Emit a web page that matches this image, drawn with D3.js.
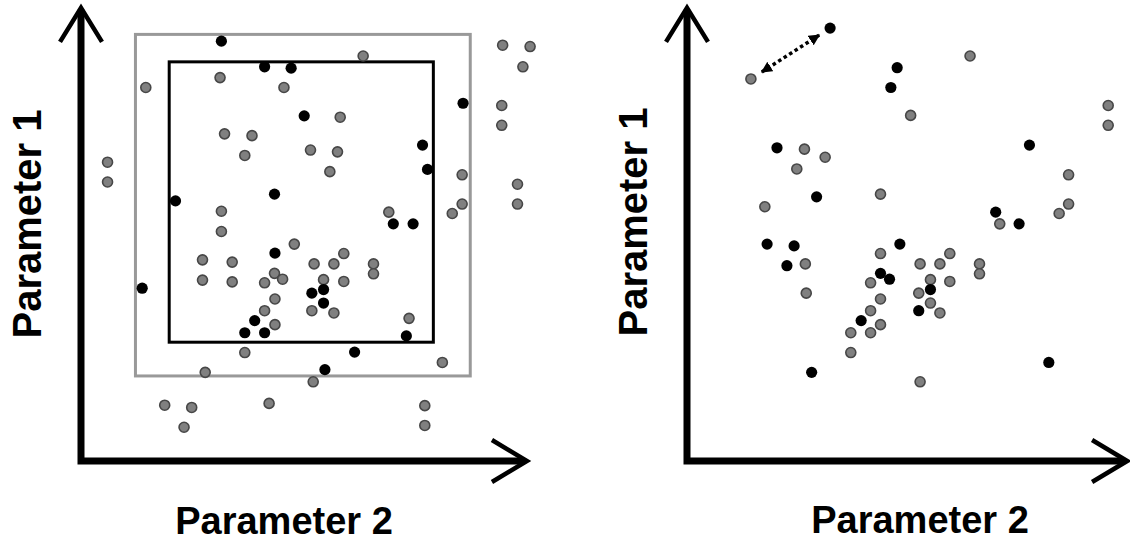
<!DOCTYPE html>
<html>
<head>
<meta charset="utf-8">
<script src="https://cdn.jsdelivr.net/npm/d3@7"></script>
<style>
  html, body { margin: 0; padding: 0; background: #fff; }
  svg { display: block; }
  .label { font-family: "Liberation Sans", Arial, sans-serif; font-weight: bold; fill: #000; }
</style>
</head>
<body>
<svg id="chart" width="1130" height="542"></svg>
<script>
// Points are [Parameter 2, Parameter 1] on a 0–100 scale.

// Panel A: sample space with an outer (gray) and inner (black) bounding box
const leftGray = [
  [30.9, 85.2], [14.4, 83.0], [45.1, 83.0], [31.9, 72.7], [38.0, 72.3], [36.4, 67.9],
  [5.9, 66.4], [5.9, 62.0], [31.2, 55.5], [62.7, 90.0], [93.7, 92.4], [99.8, 92.1],
  [98.2, 87.6], [93.5, 79.0], [93.5, 74.6], [57.6, 76.4], [51.0, 69.1], [57.0, 68.7],
  [55.3, 64.3], [84.7, 63.6], [97.0, 61.5], [97.0, 57.1], [84.7, 57.1], [82.5, 55.0],
  [68.4, 55.3], [31.2, 51.0], [47.4, 48.2], [27.0, 44.7], [33.6, 44.2], [27.0, 40.2],
  [33.6, 39.8], [43.0, 41.7], [44.8, 40.4], [40.8, 39.6], [43.1, 36.0], [40.8, 33.4],
  [43.1, 30.3], [36.4, 24.1], [27.6, 19.7], [18.6, 12.4], [24.6, 11.9], [22.9, 7.5],
  [41.8, 12.8], [58.4, 46.1], [51.8, 43.8], [56.2, 43.8], [65.0, 43.8], [65.0, 41.6],
  [53.9, 40.3], [58.4, 39.9], [51.3, 33.4], [56.2, 32.9], [72.9, 31.7], [80.3, 21.9],
  [51.6, 17.6], [76.4, 12.3], [76.4, 7.9]
];
const leftBlack = [
  [31.2, 93.3], [40.8, 87.6], [46.7, 87.3], [43.0, 59.3], [21.0, 57.8], [84.9, 79.5],
  [49.6, 76.7], [75.9, 70.2], [77.0, 64.8], [69.4, 52.7], [73.8, 52.7], [43.1, 46.2],
  [38.6, 31.2], [36.4, 28.5], [40.8, 28.5], [13.6, 38.4], [53.9, 38.1], [51.3, 37.3],
  [53.9, 35.1], [72.3, 27.8], [60.8, 24.2], [54.2, 20.3]
];
// Boxes: [x0, x1, yBottom, yTop]
const outerBox = [12.1, 86.5, 18.9, 94.8];
const innerBox = [19.6, 78.3, 26.4, 88.7];

// Panel B: rearranged sample with one highlighted pair
const rightGray = [
  [14.2, 84.9], [26.1, 69.3], [30.7, 67.5], [24.4, 64.9], [43.0, 59.3], [17.3, 56.5],
  [62.9, 90.0], [49.7, 76.8], [93.6, 79.0], [93.6, 74.6], [84.8, 63.6], [84.8, 57.1],
  [82.7, 55.0], [69.5, 52.7], [26.3, 43.8], [26.5, 37.3], [43.0, 46.1], [40.8, 39.6],
  [43.0, 36.0], [40.8, 33.4], [43.0, 30.3], [36.4, 28.5], [40.8, 28.5], [36.4, 24.1],
  [51.8, 43.8], [56.2, 43.8], [58.4, 46.1], [65.0, 43.8], [65.0, 41.6], [54.1, 40.3],
  [58.4, 39.9], [51.5, 37.3], [54.1, 35.1], [56.2, 32.9], [51.8, 17.6]
];
const rightBlack = [
  [31.8, 96.2], [46.7, 87.4], [45.3, 83.0], [20.0, 69.6], [28.8, 58.7], [76.1, 70.2],
  [68.6, 55.3], [73.8, 52.7], [17.8, 48.2], [23.8, 47.8], [22.2, 43.4], [47.3, 48.2],
  [43.0, 41.7], [45.0, 40.4], [38.7, 31.2], [27.7, 19.7], [54.1, 38.1], [51.5, 33.4],
  [80.4, 21.9]
];
// Double-headed distance marker between two points of panel B
const pairLink = [rightGray[0], rightBlack[0]];

const xLabel = "Parameter 2";
const yLabel = "Parameter 1";

const svg = d3.select("#chart");

const defs = svg.append("defs");
defs.append("marker")
  .attr("id", "tri")
  .attr("viewBox", "0 0 10 10")
  .attr("refX", 9).attr("refY", 5)
  .attr("markerWidth", 3.2).attr("markerHeight", 3.2)
  .attr("markerUnits", "strokeWidth")
  .attr("orient", "auto-start-reverse")
  .append("path")
  .attr("d", "M0,0 L10,5 L0,10 Z")
  .attr("fill", "#000");

const y = d3.scaleLinear().domain([0, 100]).range([461, 11]);

function drawPanel(cfg) {
  const x = d3.scaleLinear().domain([0, 100]).range(cfg.xRange);
  const g = svg.append("g");

  // bounding boxes
  (cfg.boxes || []).forEach(b => {
    g.append("rect")
      .attr("x", x(b.box[0]))
      .attr("y", y(b.box[3]))
      .attr("width", x(b.box[1]) - x(b.box[0]))
      .attr("height", y(b.box[2]) - y(b.box[3]))
      .attr("fill", "none")
      .attr("stroke", b.color)
      .attr("stroke-width", 3);
  });

  // axes with open arrowheads
  const x0 = x(0), y0 = y(0);
  const xTip = x(cfg.xEnd), yTip = y(cfg.yEnd);
  g.append("path")
    .attr("d", `M${x0},${yTip + 2} L${x0},${y0} L${xTip - 2},${y0}`)
    .attr("fill", "none")
    .attr("stroke", "#000")
    .attr("stroke-width", 7)
    .attr("stroke-linejoin", "miter")
    .attr("stroke-linecap", "butt");
  g.append("path")
    .attr("d", `M${x0 - 21},${yTip + 34} L${x0},${yTip} L${x0 + 21},${yTip + 34}`)
    .attr("fill", "none").attr("stroke", "#000").attr("stroke-width", 4.5)
    .attr("stroke-linejoin", "miter");
  g.append("path")
    .attr("d", `M${xTip - 35},${y0 - 21} L${xTip},${y0} L${xTip - 35},${y0 + 21}`)
    .attr("fill", "none").attr("stroke", "#000").attr("stroke-width", 4.5)
    .attr("stroke-linejoin", "miter");

  // distance marker
  if (cfg.link) {
    const [a, b] = cfg.link;
    const ax = x(a[0]), ay = y(a[1]), bx = x(b[0]), by = y(b[1]);
    const len = Math.hypot(bx - ax, by - ay);
    const ux = (bx - ax) / len, uy = (by - ay) / len;
    const gap = 13;
    g.append("line")
      .attr("x1", ax + ux * gap).attr("y1", ay + uy * gap)
      .attr("x2", bx - ux * gap).attr("y2", by - uy * gap)
      .attr("stroke", "#000")
      .attr("stroke-width", 3.5)
      .attr("stroke-dasharray", "3.5,3")
      .attr("marker-start", "url(#tri)")
      .attr("marker-end", "url(#tri)");
  }

  // sample points
  g.selectAll("circle.gray").data(cfg.gray).join("circle")
    .attr("class", "gray")
    .attr("cx", d => x(d[0])).attr("cy", d => y(d[1]))
    .attr("r", 5)
    .attr("fill", "#808080")
    .attr("stroke", "#474747")
    .attr("stroke-width", 1.6);
  g.selectAll("circle.black").data(cfg.black).join("circle")
    .attr("class", "black")
    .attr("cx", d => x(d[0])).attr("cy", d => y(d[1]))
    .attr("r", 5.6)
    .attr("fill", "#000");

  // axis titles
  g.append("text")
    .attr("class", "label")
    .attr("x", cfg.xLabelPos[0]).attr("y", cfg.xLabelPos[1])
    .attr("text-anchor", "middle")
    .attr("font-size", 38)
    .text(xLabel);
  g.append("text")
    .attr("class", "label")
    .attr("transform", `translate(${cfg.yLabelPos[0]},${cfg.yLabelPos[1]}) rotate(-90)`)
    .attr("text-anchor", "middle")
    .attr("font-size", 40)
    .text(yLabel);
}

drawPanel({
  xRange: [81, 531],
  xEnd: 99.1, yEnd: 100.7,
  gray: leftGray, black: leftBlack,
  boxes: [{ box: outerBox, color: "#999999" }, { box: innerBox, color: "#000000" }],
  xLabelPos: [284, 534],
  yLabelPos: [40.5, 224]
});

drawPanel({
  xRange: [687, 1137],
  xEnd: 97.8, yEnd: 100.7,
  gray: rightGray, black: rightBlack,
  link: pairLink,
  xLabelPos: [920, 533],
  yLabelPos: [646.5, 222]
});
</script>
</body>
</html>
